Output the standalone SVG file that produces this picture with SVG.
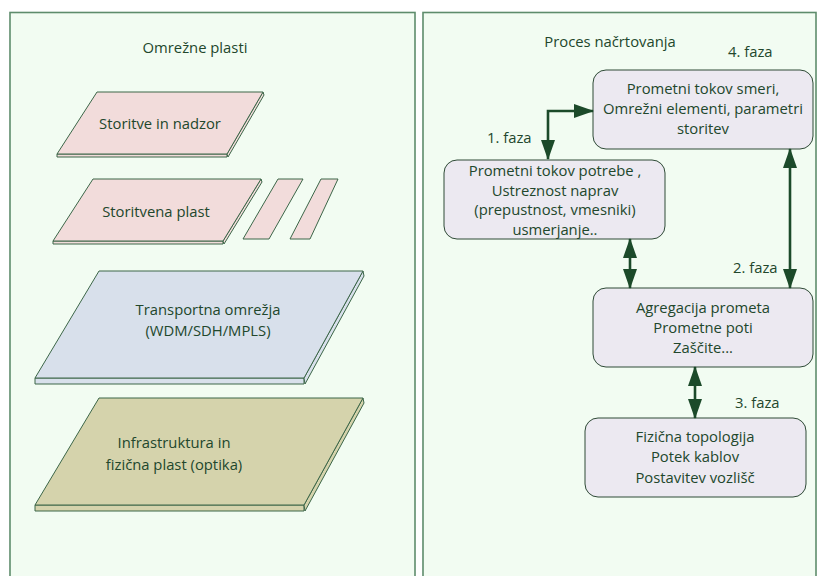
<svg xmlns="http://www.w3.org/2000/svg" width="817" height="576" viewBox="0 0 817 576">
  <style>
    .panel { fill: #F2FCF2; stroke: #5E8C6C; stroke-width: 1.6; }
    .face { stroke: #3C6648; stroke-width: 1; stroke-linejoin: round; }
    .pink { fill: #F2DCDB; }
    .blue { fill: #D8E0EB; }
    .olive { fill: #D5D3AC; }
    .box { fill: #ECE9F1; stroke: #2E4A36; stroke-width: 1; }
    .t { font-family: "Open Sans", "Liberation Sans", sans-serif; font-size: 14.8px; fill: #22472C; text-anchor: middle; }
    .lbl { text-anchor: start; }
    .conn { fill: none; stroke: #1C4A2A; stroke-width: 2.6; }
  </style>
  <defs>
    <marker id="head" viewBox="0 0 20 14" refX="19" refY="7" markerWidth="20" markerHeight="14" markerUnits="userSpaceOnUse" orient="auto-start-reverse">
      <path d="M0,0 L20,7 L0,14 Z" fill="#1C4A2A"/>
    </marker>
  </defs>

  <!-- background panels -->
  <rect class="panel" x="10" y="12.5" width="405" height="580"/>
  <rect class="panel" x="423" y="12.5" width="393" height="580"/>

  <!-- left panel: network layers -->
  <text class="t" x="195" y="53">Omrežne plasti</text>

  <g id="layer-services-control">
    <polygon class="face pink" points="57,154 227,154 227,157 57,157"/>
    <polygon class="face pink" points="227,154 263,92 264,95 228,157"/>
    <polygon class="face pink" points="97,92 263,92 227,154 57,154"/>
    <text class="t" x="160" y="129">Storitve in nadzor</text>
  </g>

  <g id="layer-service">
    <polygon class="face pink" points="53,241 223,241 223,244 53,244"/>
    <polygon class="face pink" points="223,241 261,179 262,182 224,244"/>
    <polygon class="face pink" points="93,179 261,179 223,241 53,241"/>
    <polygon class="face pink" points="278,179 303,179 269,239 243,239"/>
    <polygon class="face pink" points="321,179 338,179 310,239 290,239"/>
    <text class="t" x="156" y="217">Storitvena plast</text>
  </g>

  <g id="layer-transport">
    <polygon class="face blue" points="35,378 304,378 304,384 35,384"/>
    <polygon class="face blue" points="304,378 363,271 364,276 305,384"/>
    <polygon class="face blue" points="99,271 363,271 304,378 35,378"/>
    <text class="t" x="208" y="315">Transportna omrežja</text>
    <text class="t" x="208" y="336">(WDM/SDH/MPLS)</text>
  </g>

  <g id="layer-physical">
    <polygon class="face olive" points="35,505 304,505 304,511 35,511"/>
    <polygon class="face olive" points="304,505 363,398 364,403 305,511"/>
    <polygon class="face olive" points="99,398 363,398 304,505 35,505"/>
    <text class="t" x="174" y="448">Infrastruktura in</text>
    <text class="t" x="174" y="470">fizična plast (optika)</text>
  </g>

  <!-- right panel: planning process -->
  <text class="t" x="610" y="47">Proces načrtovanja</text>

  <g id="phase4">
    <rect class="box" x="593" y="70" width="220" height="79" rx="13"/>
    <text class="t" x="703" y="94">Prometni tokov smeri,</text>
    <text class="t" x="703" y="114">Omrežni elementi, parametri</text>
    <text class="t" x="703" y="134">storitev</text>
    <text class="t lbl" x="728" y="57">4. faza</text>
  </g>

  <g id="phase1">
    <rect class="box" x="444" y="160" width="221" height="79" rx="13"/>
    <text class="t" x="555" y="176">Prometni tokov potrebe ,</text>
    <text class="t" x="555" y="195.5">Ustreznost naprav</text>
    <text class="t" x="555" y="215">(prepustnost, vmesniki)</text>
    <text class="t" x="555" y="234.5">usmerjanje..</text>
    <text class="t lbl" x="487" y="143">1. faza</text>
  </g>

  <g id="phase2">
    <rect class="box" x="593" y="288" width="220" height="79" rx="13"/>
    <text class="t" x="703" y="313">Agregacija prometa</text>
    <text class="t" x="703" y="333">Prometne poti</text>
    <text class="t" x="703" y="353">Zaščite...</text>
    <text class="t lbl" x="733" y="273">2. faza</text>
  </g>

  <g id="phase3">
    <rect class="box" x="585" y="418" width="221" height="79" rx="13"/>
    <text class="t" x="695" y="442">Fizična topologija</text>
    <text class="t" x="695" y="462">Potek kablov</text>
    <text class="t" x="695" y="483">Postavitev vozlišč</text>
    <text class="t lbl" x="735" y="408">3. faza</text>
  </g>

  <!-- connectors between phases -->
  <g id="connectors">
    <path class="conn" d="M593,111 L548,111 L548,159" marker-start="url(#head)" marker-end="url(#head)"/>
    <path class="conn" d="M630,239 L630,288" marker-start="url(#head)" marker-end="url(#head)"/>
    <path class="conn" d="M790,149 L790,288" marker-start="url(#head)" marker-end="url(#head)"/>
    <path class="conn" d="M695,367 L695,418" marker-start="url(#head)" marker-end="url(#head)"/>
  </g>
</svg>
